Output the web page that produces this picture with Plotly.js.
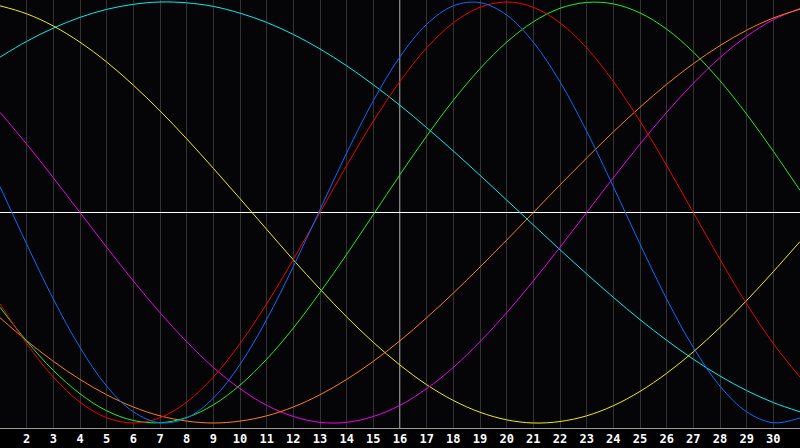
<!DOCTYPE html>
<html>
<head>
<meta charset="utf-8">
<script src="https://cdn.plot.ly/plotly-3.0.1.min.js"></script>
<style>
html,body{margin:0;padding:0;background:#000;}
#chart{width:800px;height:448px;}
</style>
</head>
<body>
<div id="chart"></div>
<script>
const days = [1,2,3,4,5,6,7,8,9,10,11,12,13,14,15,16,17,18,19,20,21,22,23,24,25,26,27,28,29,30,31];
const tickDays = [2,3,4,5,6,7,8,9,10,11,12,13,14,15,16,17,18,19,20,21,22,23,24,25,26,27,28,29,30];
const tickLabels = ["2","3","4","5","6","7","8","9","10","11","12","13","14","15","16","17","18","19","20","21","22","23","24","25","26","27","28","29","30"];

const blueSeries = [0.123,-0.150,-0.411,-0.641,-0.825,-0.947,-0.999,-0.976,-0.882,-0.722,-0.508,-0.257,0.014,0.283,0.531,0.740,0.894,0.982,0.997,0.938,0.809,0.621,0.386,0.123,-0.150,-0.411,-0.641,-0.825,-0.947,-0.999,-0.976];
const redSeries = [-0.434,-0.623,-0.782,-0.901,-0.975,-1.000,-0.975,-0.901,-0.782,-0.623,-0.434,-0.223,0.000,0.223,0.434,0.623,0.782,0.901,0.975,1.000,0.975,0.901,0.782,0.623,0.434,0.223,0.000,-0.223,-0.434,-0.623,-0.782];
const greenSeries = [-0.450,-0.611,-0.750,-0.861,-0.942,-0.988,-0.999,-0.974,-0.914,-0.820,-0.697,-0.549,-0.380,-0.199,-0.010,0.180,0.363,0.533,0.683,0.809,0.906,0.970,0.998,0.991,0.948,0.871,0.762,0.626,0.467,0.291,0.105];
const yellowSeries = [0.982,0.944,0.886,0.809,0.715,0.605,0.483,0.350,0.210,0.066,-0.080,-0.225,-0.364,-0.496,-0.617,-0.725,-0.818,-0.893,-0.949,-0.985,-1.000,-0.993,-0.966,-0.918,-0.850,-0.764,-0.662,-0.546,-0.418,-0.281,-0.138];
const magentaSeries = [0.476,0.325,0.165,0.000,-0.165,-0.325,-0.476,-0.614,-0.736,-0.837,-0.916,-0.969,-0.997,-0.997,-0.969,-0.916,-0.837,-0.736,-0.614,-0.476,-0.325,-0.165,0.000,0.165,0.325,0.476,0.614,0.736,0.837,0.916,0.969];
const orangeSeries = [-0.500,-0.609,-0.707,-0.793,-0.866,-0.924,-0.966,-0.991,-1.000,-0.991,-0.966,-0.924,-0.866,-0.793,-0.707,-0.609,-0.500,-0.383,-0.259,-0.131,0.000,0.131,0.259,0.383,0.500,0.609,0.707,0.793,0.866,0.924,0.966];
const cyanSeries = [0.738,0.813,0.876,0.927,0.965,0.989,1.000,0.996,0.979,0.947,0.903,0.846,0.777,0.697,0.607,0.509,0.403,0.292,0.177,0.059,-0.059,-0.177,-0.292,-0.403,-0.509,-0.607,-0.697,-0.777,-0.846,-0.903,-0.947];

const seriesList = [
  {y: cyanSeries, color: '#00f0f0'},
  {y: yellowSeries, color: '#f0f000'},
  {y: magentaSeries, color: '#f000f0'},
  {y: orangeSeries, color: '#ff8010'},
  {y: greenSeries, color: '#20f020'},
  {y: redSeries, color: '#f00000'},
  {y: blueSeries, color: '#0a6cff'}
];

const traces = seriesList.map(s => ({
  x: days, y: s.y, type: 'scatter', mode: 'lines',
  line: {color: s.color, width: 1, shape: 'spline', smoothing: 1},
  hoverinfo: 'skip', showlegend: false
}));

const layout = {
  width: 800, height: 448,
  margin: {l: 0, r: 0, t: 0, b: 20, pad: 0},
  paper_bgcolor: '#000000',
  plot_bgcolor: '#050508',
  showlegend: false,
  xaxis: {
    range: [1, 31], fixedrange: true,
    tickmode: 'array', tickvals: tickDays, ticktext: tickLabels,
    ticks: '', ticklen: 0,
    tickfont: {family: 'DejaVu Sans Mono', size: 12, color: '#ffffff', weight: 'bold'},
    showgrid: true, gridcolor: '#333333', gridwidth: 1,
    zeroline: false,
    showline: true, linecolor: '#9a9a9a', linewidth: 1, mirror: true
  },
  yaxis: {
    range: [-1.0238, 1.0095], fixedrange: true,
    showticklabels: false, ticks: '',
    showgrid: false,
    zeroline: true, zerolinecolor: '#ffffff', zerolinewidth: 1,
    showline: true, linecolor: '#9a9a9a', linewidth: 1
  },
  shapes: [{
    type: 'line', xref: 'x', yref: 'paper', x0: 16, x1: 16, y0: 0, y1: 1,
    line: {color: '#ffffff', width: 1}, layer: 'below'
  }]
};

Plotly.newPlot('chart', traces, layout, {staticPlot: true, displayModeBar: false});
</script>
</body>
</html>
